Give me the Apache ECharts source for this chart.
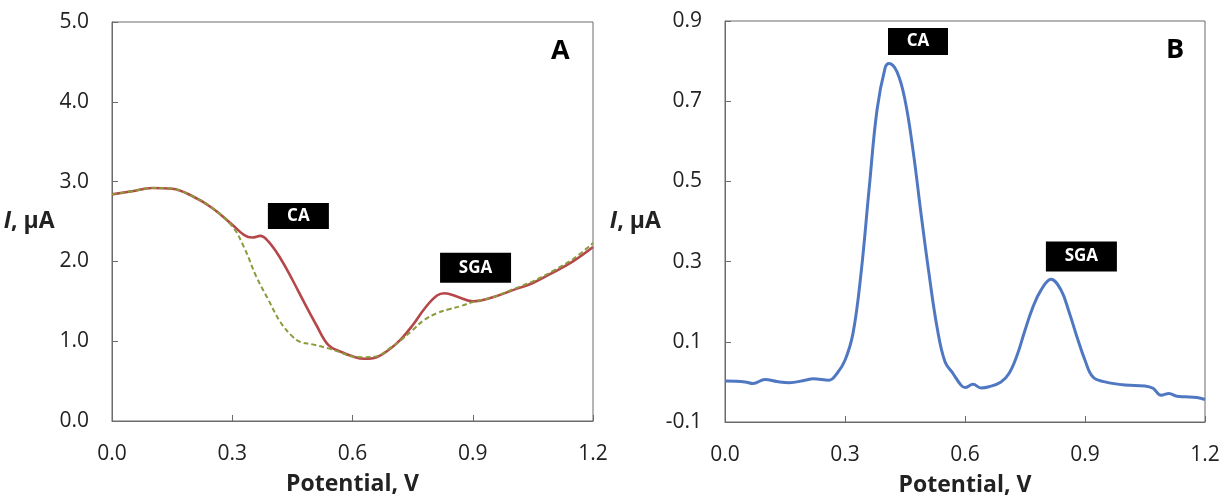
<!DOCTYPE html>
<html>
<head>
<meta charset="utf-8">
<script src="https://cdn.jsdelivr.net/npm/echarts@6/dist/echarts.min.js"></script>
<style>
  html, body { margin: 0; padding: 0; background: #fff; }
  #chart { width: 1224px; height: 497px; }
</style>
</head>
<body>
<div id="chart"></div>
<script>
// Panel A: voltammograms (sample vs. background), potential in V, current in µA
const potentialA = [0.00, 0.05, 0.10, 0.15, 0.20, 0.25, 0.30, 0.33, 0.35, 0.37, 0.39, 0.42, 0.45, 0.48, 0.51, 0.54, 0.57, 0.60, 0.63, 0.66, 0.69, 0.72, 0.75, 0.78, 0.81, 0.83, 0.86, 0.90, 0.95, 1.00, 1.05, 1.10, 1.15, 1.20];
const currentSample = [2.84, 2.88, 2.92, 2.91, 2.82, 2.67, 2.46, 2.33, 2.30, 2.32, 2.25, 2.04, 1.77, 1.48, 1.20, 0.95, 0.87, 0.81, 0.78, 0.80, 0.89, 1.02, 1.20, 1.41, 1.57, 1.60, 1.56, 1.50, 1.55, 1.64, 1.73, 1.86, 2.00, 2.18];
const potentialBg = [0.00, 0.05, 0.10, 0.15, 0.20, 0.25, 0.30, 0.33, 0.36, 0.39, 0.42, 0.45, 0.47, 0.50, 0.54, 0.57, 0.60, 0.63, 0.66, 0.69, 0.72, 0.75, 0.78, 0.81, 0.84, 0.87, 0.90, 0.95, 1.00, 1.05, 1.10, 1.15, 1.20];
const currentBg = [2.84, 2.88, 2.92, 2.91, 2.82, 2.67, 2.44, 2.17, 1.81, 1.52, 1.24, 1.06, 0.99, 0.96, 0.91, 0.86, 0.81, 0.80, 0.81, 0.90, 1.01, 1.14, 1.27, 1.35, 1.40, 1.44, 1.49, 1.55, 1.65, 1.75, 1.88, 2.03, 2.23];

// Panel B: background-subtracted signal
const potentialB = [0.00, 0.05, 0.07, 0.10, 0.13, 0.16, 0.20, 0.22, 0.26, 0.28, 0.30, 0.32, 0.34, 0.36, 0.38, 0.40, 0.41, 0.43, 0.45, 0.47, 0.49, 0.51, 0.53, 0.55, 0.57, 0.59, 0.60, 0.62, 0.64, 0.66, 0.69, 0.71, 0.73, 0.75, 0.77, 0.79, 0.815, 0.84, 0.86, 0.88, 0.90, 0.92, 0.95, 1.00, 1.05, 1.07, 1.09, 1.11, 1.13, 1.15, 1.18, 1.20];
const currentB = [0.002, 0.000, -0.004, 0.006, 0.001, -0.002, 0.004, 0.008, 0.004, 0.021, 0.054, 0.121, 0.270, 0.478, 0.678, 0.782, 0.794, 0.773, 0.703, 0.578, 0.420, 0.270, 0.137, 0.050, 0.021, -0.008, -0.014, -0.006, -0.015, -0.012, 0.000, 0.021, 0.066, 0.129, 0.187, 0.229, 0.256, 0.229, 0.175, 0.112, 0.054, 0.012, 0.000, -0.008, -0.010, -0.016, -0.033, -0.029, -0.036, -0.037, -0.039, -0.044];

const xTicks = { min: 0, max: 1.2, interval: 0.3 };
const yTicksA = { min: 0, max: 5, interval: 1 };
const yTicksB = { min: -0.1, max: 0.9, interval: 0.2 };

// Peak tags: [x, y] centre in data units
const tagsA = [{ text: 'CA', at: [0.465, 2.57], w: 61, h: 26 }, { text: 'SGA', at: [0.907, 1.92], w: 71, h: 30 }];
const tagsB = [{ text: 'CA', at: [0.4825, 0.849], w: 60, h: 27 }, { text: 'SGA', at: [0.891, 0.313], w: 71, h: 30 }];

const pair = (xs, ys) => xs.map((x, i) => [x, ys[i]]);
const FONT = '"Open Sans", "Liberation Sans", sans-serif';
const AXIS_COLOR = '#6b6b6b';
const TEXT_COLOR = '#222';

function xAxisFor(gridIndex) {
  return {
    type: 'value', gridIndex, min: xTicks.min, max: xTicks.max, interval: xTicks.interval,
    name: 'Potential, V', nameLocation: 'middle', nameGap: 52,
    nameTextStyle: { fontFamily: FONT, fontSize: 23, fontWeight: 'bold', color: TEXT_COLOR },
    axisLine: { show: true, onZero: false, lineStyle: { color: AXIS_COLOR, width: 1 } },
    axisTick: { show: true, inside: true, length: 6, lineStyle: { color: AXIS_COLOR } },
    axisLabel: { fontFamily: FONT, fontSize: 21, color: TEXT_COLOR, margin: 23, formatter: v => v.toFixed(1) },
    splitLine: { show: false }
  };
}
function yAxisFor(gridIndex, t) {
  return {
    type: 'value', gridIndex, min: t.min, max: t.max, interval: t.interval,
    name: '{i|I}, μA', nameLocation: 'middle', nameRotate: 0, nameGap: 45,
    nameTextStyle: {
      fontFamily: FONT, fontSize: 23, fontWeight: 'bold', color: TEXT_COLOR,
      rich: { i: { fontFamily: FONT, fontSize: 23, fontWeight: 'bold', fontStyle: 'italic', color: TEXT_COLOR } }
    },
    axisLine: { show: true, onZero: false, lineStyle: { color: AXIS_COLOR, width: 1 } },
    axisTick: { show: true, inside: true, length: 6, lineStyle: { color: AXIS_COLOR } },
    axisLabel: { fontFamily: FONT, fontSize: 21, color: TEXT_COLOR, margin: 23, formatter: v => v.toFixed(1) },
    splitLine: { show: false }
  };
}
function tagPoints(tags) {
  return {
    silent: true,
    animation: false,
    data: tags.map(t => ({
      coord: t.at, symbol: 'rect', symbolSize: [t.w, t.h],
      itemStyle: { color: '#000' },
      label: { show: true, position: 'inside', formatter: t.text, color: '#fff', fontFamily: FONT, fontWeight: 'bold', fontSize: 17 }
    }))
  };
}

const chart = echarts.init(document.getElementById('chart'), null, { renderer: 'canvas' });
chart.setOption({
  animation: false,
  backgroundColor: '#fff',
  grid: [
    { left: 112, top: 22, width: 481, height: 399, outerBoundsMode: 'none', containLabel: false, show: true, borderColor: AXIS_COLOR, borderWidth: 1, backgroundColor: 'transparent' },
    { left: 725, top: 21, width: 480, height: 401, outerBoundsMode: 'none', containLabel: false, show: true, borderColor: AXIS_COLOR, borderWidth: 1, backgroundColor: 'transparent' }
  ],
  xAxis: [xAxisFor(0), xAxisFor(1)],
  yAxis: [yAxisFor(0, yTicksA), yAxisFor(1, yTicksB)],
  graphic: [
    { type: 'text', left: 551, top: 38, style: { text: 'A', fontFamily: FONT, fontSize: 27, fontWeight: 'bold', fill: '#000' } },
    { type: 'text', left: 1166, top: 37, style: { text: 'B', fontFamily: FONT, fontSize: 27, fontWeight: 'bold', fill: '#000' } }
  ],
  series: [
    {
      type: 'line', xAxisIndex: 0, yAxisIndex: 0, data: pair(potentialA, currentSample),
      smooth: 0.4, showSymbol: false, lineStyle: { color: '#b5474a', width: 2.6 },
      markPoint: tagPoints(tagsA)
    },
    {
      type: 'line', xAxisIndex: 0, yAxisIndex: 0, data: pair(potentialBg, currentBg),
      smooth: 0.4, showSymbol: false, lineStyle: { color: '#8b9a3a', width: 2, type: [5, 3] }
    },
    {
      type: 'line', xAxisIndex: 1, yAxisIndex: 1, data: pair(potentialB, currentB),
      smooth: 0.4, showSymbol: false, lineStyle: { color: '#5078c2', width: 3 },
      markPoint: tagPoints(tagsB)
    }
  ]
});
</script>
</body>
</html>
